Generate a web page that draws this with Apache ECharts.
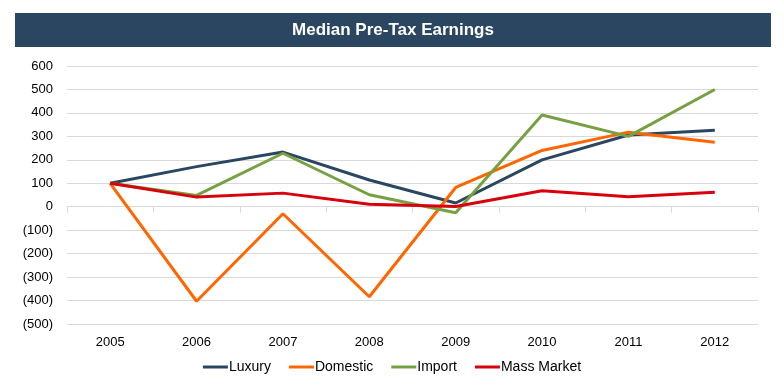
<!DOCTYPE html>
<html><head><meta charset="utf-8">
<script src="https://cdn.jsdelivr.net/npm/echarts@6/dist/echarts.min.js"></script>
<style>html,body{margin:0;padding:0;background:#fff}#c{width:784px;height:388px}</style>
</head><body><div id="c"></div>
<script>
const categories = ['2005','2006','2007','2008','2009','2010','2011','2012'];
const luxury = [100, 171, 233, 114, 16, 200, 306, 326];
const domestic = [100, -403, -30, -384, 82, 240, 318, 275];
const importS = [100, 48, 228, 51, -26, 391, 300, 500];
const massMarket = [100, 41, 58, 11, 1, 68, 43, 62];
const seriesNames = ['Luxury','Domestic','Import','Mass Market'];
const colors = ['#2B4661','#FF6600','#77A043','#D9000D'];
const chart = echarts.init(document.getElementById('c'), null, {renderer:'canvas'});
const font = 'Liberation Sans, Arial, sans-serif';
const data = [luxury, domestic, importS, massMarket];
chart.setOption({
  animation:false,
  graphic:[
    {type:'rect', shape:{x:15,y:13,width:756,height:34}, style:{fill:'#2B4661'}},
    {type:'text', x:393, y:30, style:{text:'Median Pre-Tax Earnings', fill:'#fff', font:'bold 17px '+font, textAlign:'center', textVerticalAlign:'middle'}}
  ],
  grid:{left:67,right:26,top:66,bottom:64},
  legend:{bottom:9,left:'center',itemWidth:25,itemHeight:3,itemGap:18,icon:'rect',
    textStyle:{fontFamily:font,fontSize:14,color:'#000',padding:[0,0,0,-4]},
    data:seriesNames},
  xAxis:{type:'category',data:categories,boundaryGap:true,
    axisLine:{lineStyle:{color:'#D9D9D9',width:1}},
    axisTick:{show:true,length:6,lineStyle:{color:'#D9D9D9'}},
    axisLabel:{fontFamily:font,fontSize:13,color:'#000',margin:12}},
  yAxis:{type:'value',min:-500,max:600,interval:100,
    axisLine:{show:false},axisTick:{show:false},
    splitLine:{lineStyle:{color:'#D9D9D9',width:1}},
    axisLabel:{fontFamily:font,fontSize:13,color:'#000',margin:14,
      formatter:v=> v<0 ? '('+Math.abs(v)+')' : String(v)}},
  series: seriesNames.map((n,i)=>({name:n,type:'line',data:data[i],symbol:'none',
    lineStyle:{width:3,color:colors[i]},itemStyle:{color:colors[i]}}))
});
</script></body></html>
